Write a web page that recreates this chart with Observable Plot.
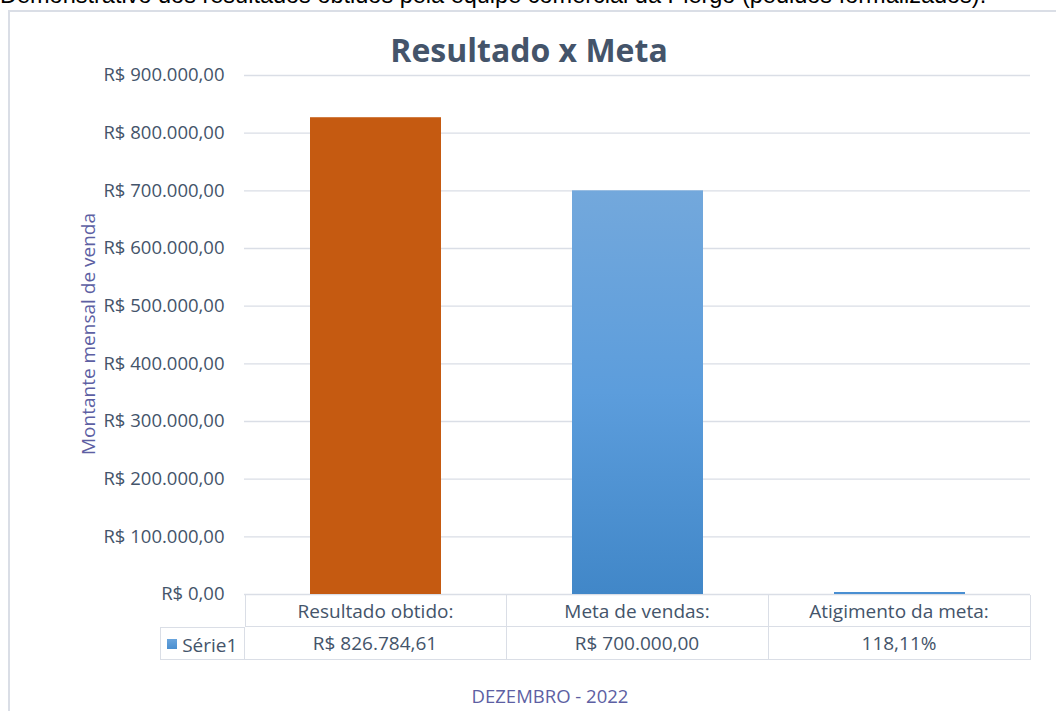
<!DOCTYPE html>
<html><head><meta charset="utf-8">
<script src="https://cdn.jsdelivr.net/npm/d3@7"></script>
<script src="https://cdn.jsdelivr.net/npm/@observablehq/plot@0.6"></script>
<style>
html,body{margin:0;padding:0;background:#fff;overflow:hidden}
#wrap{position:relative;width:1056px;height:711px;overflow:hidden;background:#fff}
.abs{position:absolute;white-space:nowrap}
</style></head>
<body><div id="wrap"></div>
<script>
const caption = "Demonstrativo dos resultados obtidos pela equipe comercial da Piergo (pedidos formalizados).";
const title = "Resultado x Meta";
const yTitle = "Montante mensal de venda";
const xTitle = "DEZEMBRO - 2022";
const seriesName = "Série1";
const categories = ["Resultado obtido:", "Meta de vendas:", "Atigimento da meta:"];
const values = [826784.61, 700000.00, 1.1811];
const valueLabels = ["R$ 826.784,61", "R$ 700.000,00", "118,11%"];
const yTicks = [0, 100000, 200000, 300000, 400000, 500000, 600000, 700000, 800000, 900000];

const data = categories.map((c, i) => ({cat: c, value: values[i], label: valueLabels[i]}));
const brl = d3.formatLocale({decimal: ",", thousands: ".", grouping: [3], currency: ["R$ ", ""]}).format("$,.2f");

const wrap = document.getElementById("wrap");
const textCol = "#44546a";
const purple = "#5d5fa3";
const border = "#dadee6";
const font = "'Open Sans', sans-serif";

function gradDefs() {
  const ns = "http://www.w3.org/2000/svg";
  const defs = document.createElementNS(ns, "defs");
  const g = document.createElementNS(ns, "linearGradient");
  g.setAttribute("id", "gBlue"); g.setAttribute("x1", "0"); g.setAttribute("y1", "0");
  g.setAttribute("x2", "0"); g.setAttribute("y2", "1");
  [["0%", "#73a8dc"], ["50%", "#5c9ddc"], ["100%", "#4187c8"]].forEach(([o, c]) => {
    const s = document.createElementNS(ns, "stop");
    s.setAttribute("offset", o); s.setAttribute("stop-color", c); g.appendChild(s);
  });
  defs.appendChild(g);
  return defs;
}

const plot = Plot.plot({
  width: 1056, height: 600,
  marginTop: 75, marginBottom: 6, marginLeft: 244, marginRight: 26,
  style: {fontFamily: font, fontSize: "18.5px", color: textCol, background: "transparent", overflow: "visible"},
  x: {domain: categories, paddingInner: 0.5, paddingOuter: 0.25, align: 0.5, axis: null},
  y: {domain: [0, 900000], axis: null},
  marks: [
    gradDefs,
    Plot.gridY(yTicks, {stroke: border, strokeOpacity: 1, strokeWidth: 1.3}),
    Plot.axisY(yTicks, {tickFormat: brl, tickSize: 0, tickPadding: 20, fill: textCol, fontSize: 18.5, label: null}),
    Plot.barY(data.filter((d, i) => i < 2), {x: "cat", y: "value",
      fill: d => d.cat === categories[0] ? "#c55a11" : "url(#gBlue)"}),
    Plot.barY(data.filter((d, i) => i === 2), {x: "cat", y: "value", insetTop: -2, fill: "#4a8fd2"})
  ]
});
plot.style.position = "absolute"; plot.style.left = "0px"; plot.style.top = "0px";

// chart border
const frame = document.createElement("div");
frame.className = "abs";
Object.assign(frame.style, {left: "8px", top: "10px", width: "1200px", height: "800px", border: `2px solid ${border}`, boxSizing: "border-box"});
wrap.appendChild(frame);
wrap.appendChild(plot);

function addText(txt, css) {
  const d = document.createElement("div");
  d.className = "abs"; d.textContent = txt; Object.assign(d.style, css); wrap.appendChild(d); return d;
}
addText(caption, {left: "0px", top: "-17px", fontFamily: "'Liberation Sans', Arial, sans-serif", fontSize: "23.5px", color: "#000", lineHeight: "24px"});
addText(title, {left: "0px", width: "1058px", textAlign: "center", top: "30px", fontFamily: font, fontWeight: "700", fontSize: "32px", color: textCol, lineHeight: "40px"});
addText(yTitle, {left: "88px", top: "334px", fontFamily: font, fontSize: "19px", color: purple, lineHeight: "22px", transform: "translate(-50%,-50%) rotate(-90deg)"});
addText(xTitle, {left: "550px", top: "684px", transform: "translateX(-50%)", fontFamily: font, fontSize: "18.5px", color: purple, lineHeight: "24px"});

// data table under the axis, built from the x scale
const xs = plot.scale("x");
const bw = xs.bandwidth;
const step = xs.step;
const left0 = xs.apply(categories[0]) - (step - bw) / 2;
const rowTop = 595, rowH = 32, tableLeft = 160;
function cell(txt, l, t, w, h, bTop, bLeft) {
  const d = document.createElement("div");
  d.className = "abs";
  Object.assign(d.style, {left: l + "px", top: t + "px", width: w + "px", height: h + "px", boxSizing: "border-box",
    borderRight: `1.5px solid ${border}`, borderBottom: `1.5px solid ${border}`,
    borderTop: bTop ? `1.5px solid ${border}` : "none", borderLeft: bLeft ? `1.5px solid ${border}` : "none",
    fontFamily: font, fontSize: "19px", color: textCol, display: "flex", alignItems: "center", justifyContent: "center"});
  if (typeof txt === "string") d.textContent = txt; else d.appendChild(txt);
  wrap.appendChild(d);
}
categories.forEach((c, i) => {
  cell(c, left0 + i * step, rowTop, step, rowH, false, i === 0);
  cell(valueLabels[i], left0 + i * step, rowTop + rowH, step, rowH + 1, false, false);
});
const leg = document.createElement("span");
leg.innerHTML = `<span style="display:inline-block;width:10px;height:10px;background:linear-gradient(#6aa5dd,#4a8fd0);margin-right:5px;vertical-align:middle"></span><span style="vertical-align:middle">${seriesName}</span>`;
cell(leg, tableLeft, rowTop + rowH, left0 - tableLeft, rowH + 1, true, true);
</script></body></html>
